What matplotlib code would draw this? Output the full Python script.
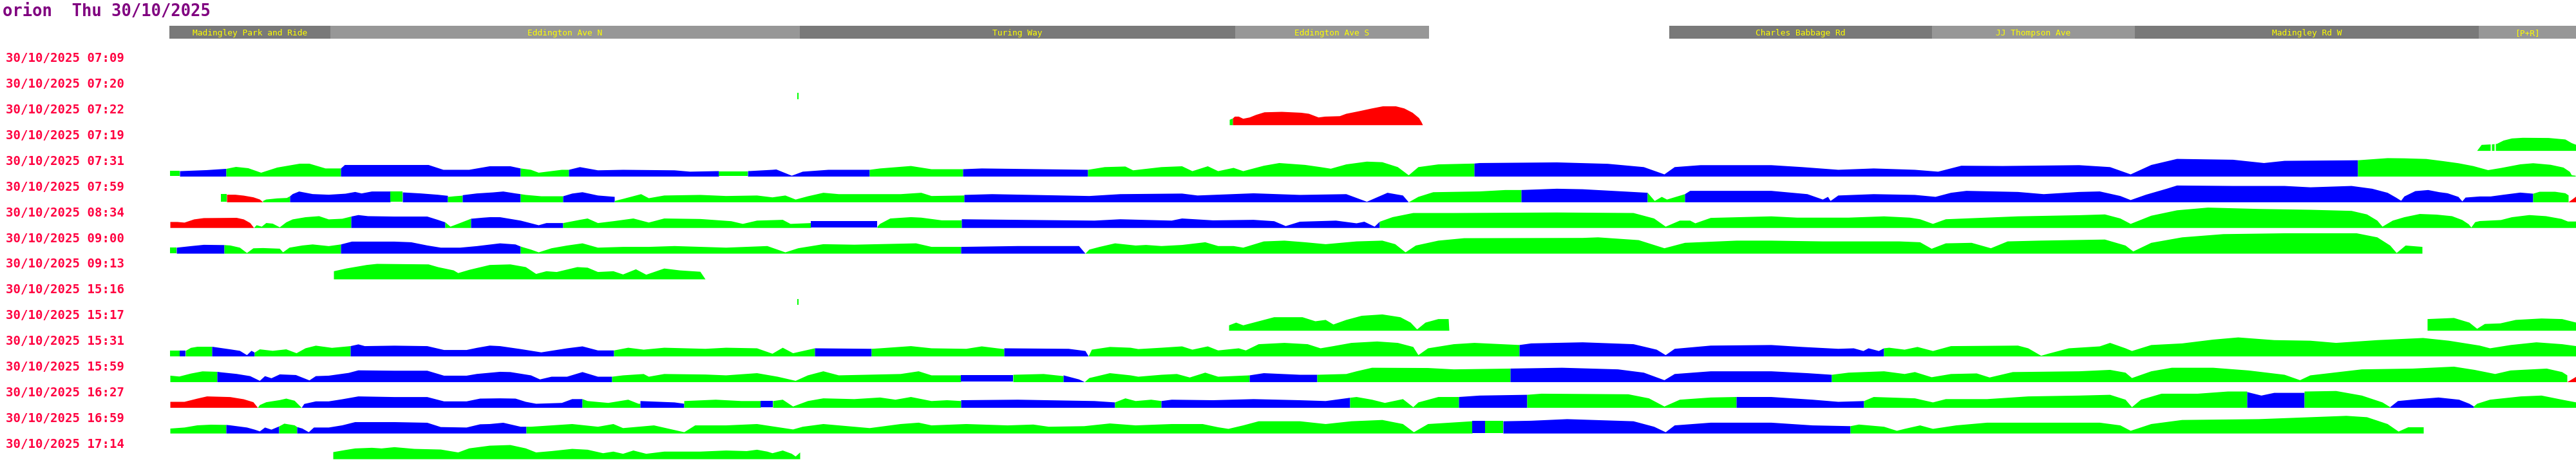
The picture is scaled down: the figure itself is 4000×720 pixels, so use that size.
import matplotlib
matplotlib.use("Agg")
import matplotlib.pyplot as plt

# ---------------- data ----------------
TITLE = "orion  Thu 30/10/2025"
DATE = "30/10/2025"
ROW_TIMES = ["07:09", "07:20", "07:22", "07:19", "07:31", "07:59", "08:34", "09:00",
             "09:13", "15:16", "15:17", "15:31", "15:59", "16:27", "16:59", "17:14"]

# route stops (route position units)
STOP_NAMES = ["Madingley Park and Ride", "Eddington Ave N", "Turing Way", "Eddington Ave S",
              "Charles Babbage Rd", "JJ Thompson Ave", "Madingley Rd W", "[P+R]"]
STOP_FROM = [263, 513, 1242, 1918, 2592, 3000, 3315, 3849]
STOP_TO = [513, 1242, 1918, 2219, 3000, 3315, 3849, 4000]
ROUTE_START, ROUTE_END = 263, 4000

# each row: list of (state, [(route position, speed), ...])
R0709 = []
R0720 = [("g", [(1238, 9.7), (1240, 9.7)])]
R0722 = [("g", [(1909, 0), (1909, 8.4), (1914, 10.5)]),
         ("r", [(1914, 10.5), (1917, 13.3), (1923, 13.3), (1930, 10), (1940, 12), (1950, 16), (1963, 20),
                (1990, 20.7), (2020, 19.3), (2032, 17.7), (2047, 12), (2057, 13.3), (2080, 14), (2090, 17.7),
                (2110, 21.7), (2130, 26), (2147, 29.3), (2167, 29.3), (2180, 26), (2193, 19.3), (2203, 11),
                (2207, 4.3), (2209, 0)])]
R0719 = [("g", [(3846, 0), (3853, 9.3), (3867, 10)]),
         ("g", [(3869, 10), (3873, 10.5)]),
         ("g", [(3875, 10.7), (3877, 11), (3887, 16), (3900, 19.3), (3917, 20.3), (3957, 20), (3983, 17.7),
                (3993, 12), (4000, 9.3)])]
R0731 = [("g", [(264, 8.4), (279, 8.4)]),
         ("b", [(279, 8.4), (320, 10), (351, 12)]),
         ("g", [(351, 12), (366, 15), (385, 13), (405, 6), (430, 14), (465, 20), (480, 20), (505, 12.6), (529, 12.6)]),
         ("b", [(529, 12.6), (535, 18), (553, 18), (665, 18), (688, 10.5), (728, 10.5), (760, 16), (792, 16), (808, 12.6)]),
         ("g", [(808, 12.6), (824, 10.5), (836, 6), (872, 10.5), (883, 10.5)]),
         ("b", [(883, 10.5), (900, 14.7), (928, 9.7), (967, 10.5), (1047, 9.7), (1071, 7.6), (1111, 8.4), (1116, 8.4)]),
         ("g", [(1116, 7.6), (1161, 7.6)]),
         ("b", [(1161, 8.4), (1199, 10.5), (1205, 11), (1229, 1.3), (1246, 7.6), (1286, 10.5), (1350, 10.5)]),
         ("g", [(1350, 10.5), (1366, 12.6), (1414, 16.4), (1446, 11.4), (1495, 11.4)]),
         ("b", [(1495, 11.4), (1524, 12.6), (1689, 10.5)]),
         ("g", [(1689, 10.5), (1715, 14.7), (1747, 15.6), (1759, 9.7), (1803, 14.7), (1835, 16), (1851, 8.4),
                (1875, 16), (1891, 8.4), (1915, 13.5), (1930, 8.4), (1962, 16.8), (1986, 21), (2026, 18.1),
                (2050, 14.7), (2066, 12.2), (2090, 18.9), (2122, 23.2), (2146, 22.3), (2170, 14.7), (2187, 2),
                (2202, 14.7), (2233, 18.9), (2289, 20.2)]),
         ("b", [(2289, 20.2), (2297, 21), (2417, 22), (2496, 19.8), (2552, 14.7), (2584, 3.4), (2600, 14.7),
                (2640, 17.7), (2750, 17.7), (2798, 14.7), (2854, 10.5), (2909, 12.6), (2973, 10.5), (3009, 7.6),
                (3045, 16.8), (3109, 16.4), (3228, 17.7), (3276, 14.7), (3308, 3.4), (3340, 18), (3380, 27.4),
                (3467, 26.1), (3515, 21), (3547, 24.4), (3661, 25.3)]),
         ("g", [(3661, 25.3), (3707, 28.6), (3733, 28.3), (3767, 27.3), (3793, 24), (3817, 20.7), (3840, 16.3),
                (3863, 10), (3883, 13.3), (3913, 19), (3933, 20.7), (3960, 18.3), (3980, 14), (3990, 7.3),
                (3993, 2), (3999, 1.3)])]
R0759 = [("g", [(343, 12.6), (352, 12.6)]),
         ("r", [(352, 11.7), (365, 11.7), (378, 10.3), (393, 7.7), (403, 4.3), (408, 0)]),
         ("g", [(408, 2), (413, 4.3), (430, 6), (445, 6.7), (450, 9.3)]),
         ("b", [(450, 9.3), (454, 12.7), (464, 16.7), (485, 12.7), (510, 11.7), (536, 13.3), (551, 16), (561, 13.7),
                (577, 16.7), (606, 16.7)]),
         ("g", [(606, 16.7), (625, 16.7)]),
         ("b", [(625, 15.3), (653, 13.7), (679, 11.7), (695, 10)]),
         ("g", [(695, 8.3), (705, 9.3), (718, 10.3)]),
         ("b", [(718, 11), (740, 13.7), (765, 15.3), (781, 16.7), (800, 13.7), (808, 12.6)]),
         ("g", [(808, 12.6), (816, 11.4), (840, 9.3), (874, 9.3)]),
         ("b", [(874, 9.3), (888, 13.5), (904, 15.6), (928, 10.5), (954, 8.4)]),
         ("g", [(954, 2), (968, 5.5), (995, 12.6), (1007, 6.3), (1031, 10.5), (1087, 11.4), (1127, 9.7), (1175, 10.5),
                (1199, 7.6), (1219, 10.5), (1235, 4.2), (1254, 9.3), (1278, 14.7), (1302, 12.6), (1398, 12.6),
                (1430, 14.7), (1446, 9.7), (1497, 10.5)]),
         ("b", [(1497, 11.4), (1540, 12.6), (1691, 9.7), (1739, 12.6), (1835, 13.5), (1859, 10.5), (1946, 13.9),
                (2018, 11.4), (2090, 12.6), (2122, 0.8), (2154, 14.7), (2178, 10.5), (2187, 0)]),
         ("g", [(2187, 0), (2202, 8.4), (2225, 15.6), (2297, 16.8), (2337, 19), (2362, 19)]),
         ("b", [(2362, 19), (2417, 21), (2457, 20.2), (2520, 16.8), (2558, 14.7)]),
         ("g", [(2558, 14.7), (2569, 2), (2580, 8.4), (2588, 4.2), (2616, 12.6)]),
         ("b", [(2616, 12.6), (2624, 17.7), (2750, 17.7), (2806, 12.6), (2830, 4.2), (2838, 8.4), (2842, 2),
                (2854, 10.5), (2909, 12.6), (2973, 11.4), (3005, 8.4), (3029, 14.7), (3053, 17.7), (3133, 16),
                (3173, 12.6), (3228, 16), (3260, 16.8), (3292, 9.7), (3308, 3.4), (3332, 11.8), (3364, 21),
                (3380, 26), (3467, 25.3), (3547, 25.3), (3587, 23.2), (3651, 25.3), (3683, 21), (3707, 14.7),
                (3720, 7.3), (3728, 2.3), (3733, 9), (3750, 17.3), (3770, 19), (3787, 15.7), (3800, 14),
                (3817, 8.3), (3823, 1.3), (3828, 7.3), (3850, 9), (3867, 9), (3887, 11.7), (3913, 15), (3933, 13.3)]),
         ("g", [(3933, 13.3), (3943, 16.3), (3967, 16.3), (3983, 14), (3988, 10.7)]),
         ("r", [(3988, 0), (4000, 9)])]
R0834 = [("r", [(264, 9.3), (275, 9.3), (286, 8.3), (301, 13.3), (316, 15.3), (367, 15.7), (378, 13.3), (388, 7.7),
                (394, 0)]),
         ("g", [(394, 0), (398, 4.3), (406, 2), (413, 7.7), (423, 6.7), (434, 1), (444, 8.7), (454, 13.3),
                (474, 16.7), (495, 18.3), (510, 13.3), (531, 14.3), (545, 17.7)]),
         ("b", [(545, 17.7), (556, 20), (571, 18.3), (612, 17.7), (663, 17.7), (679, 12.7), (691, 8.7)]),
         ("g", [(691, 8.7), (699, 2), (714, 7.7), (731, 14.3)]),
         ("b", [(731, 14.3), (750, 16), (761, 16.8), (776, 16.7), (808, 11.4), (836, 4.2), (848, 7.6), (874, 7.6)]),
         ("g", [(874, 7.6), (900, 12.6), (912, 14.7), (928, 7.6), (952, 10.5), (983, 14.7), (1007, 8.4), (1031, 14.7),
                (1087, 13.9), (1135, 10.5), (1153, 6.3), (1175, 11.4), (1215, 12.6), (1227, 6.3), (1259, 7.6)]),
         ("b", [(1259, 10.5), (1362, 10.5)]),
         ("g", [(1362, 2), (1366, 6.3), (1382, 14.7), (1414, 16.8), (1430, 16), (1462, 11.8), (1493, 11.8)]),
         ("b", [(1493, 13.5), (1580, 12.6), (1699, 11.4), (1739, 13.5), (1819, 11.4), (1835, 14.7), (1883, 11.8),
                (1946, 12.6), (1978, 10.5), (1996, 2.9), (2018, 9.7), (2074, 11.4), (2106, 7.2), (2118, 9.7),
                (2134, 2), (2142, 9.7)]),
         ("g", [(2142, 9.7), (2162, 16.8), (2194, 23.2), (2257, 23.2), (2417, 24), (2536, 23.2), (2568, 14.7),
                (2586, 2), (2608, 11.4), (2624, 11.4), (2632, 7.2), (2656, 15.6), (2750, 18), (2790, 16), (2870, 16),
                (2925, 18), (2965, 16), (2981, 13.5), (3001, 6.3), (3021, 13.5), (3133, 18), (3228, 19.8), (3268, 21),
                (3292, 14.7), (3308, 6.3), (3340, 19), (3380, 27.4), (3428, 31.6), (3507, 29.5), (3587, 28.2),
                (3651, 26.5), (3675, 21), (3691, 11.4), (3699, 2), (3715, 11.4), (3733, 16.7), (3757, 21.7),
                (3783, 20.7), (3807, 18.3), (3823, 12.3), (3833, 5.7), (3837, 0.7), (3843, 9), (3850, 10.7),
                (3883, 12.3), (3900, 16.7), (3927, 20), (3953, 18.3), (3977, 14), (3987, 10), (4000, 10)])]
R0900 = [("g", [(264, 9.3), (274, 9.3)]),
         ("b", [(274, 9.3), (296, 11.7), (316, 13.7), (348, 13.3)]),
         ("g", [(348, 13.3), (357, 12.7), (372, 9.3), (383, 1), (393, 8.3), (408, 8.7), (434, 7.7), (439, 2),
                (449, 9.3), (469, 12.7), (485, 14.3), (510, 11.7), (529, 14.3)]),
         ("b", [(529, 14.3), (546, 18.7), (612, 18.7), (638, 17.7), (663, 12.7), (684, 9.3), (714, 9.3), (740, 11.7),
                (776, 16), (800, 14.3), (808, 11)]),
         ("g", [(808, 11), (824, 6.3), (836, 2), (856, 8.4), (880, 12.6), (904, 16), (928, 9.3), (967, 10.5),
                (1007, 10.5), (1047, 11.8), (1127, 9.3), (1191, 11.8), (1219, 2), (1239, 8.4), (1278, 14.7),
                (1326, 13.9), (1422, 16), (1446, 10.5), (1492, 10.5)]),
         ("b", [(1492, 10.5), (1580, 11.8), (1675, 11.8), (1685, 0)]),
         ("g", [(1685, 0), (1691, 6.3), (1707, 10.5), (1731, 16), (1763, 12.6), (1779, 13.5), (1803, 11.8),
                (1835, 13.5), (1871, 17.7), (1891, 11.8), (1915, 11.8), (1930, 9.3), (1962, 19), (1994, 20.2),
                (2026, 17.7), (2058, 14.7), (2106, 19), (2146, 20.2), (2166, 14.7), (2182, 2), (2198, 12.6),
                (2233, 20.2), (2273, 24), (2457, 24.4), (2481, 25.3), (2544, 21), (2584, 8.4), (2616, 16.8),
                (2696, 20.2), (2750, 20.2), (2830, 19), (2949, 19), (2981, 17.7), (2999, 7.6), (3021, 16),
                (3061, 16.8), (3091, 8.4), (3117, 19), (3165, 20.2), (3268, 21.9), (3300, 12.6), (3312, 3.4),
                (3340, 16.8), (3388, 25.3), (3452, 30.3), (3547, 31.6), (3659, 31.6), (3691, 25.3), (3711, 12.6),
                (3721, 1), (3735, 12.6), (3761, 10.5)])]
R0913 = [("g", [(518, 0), (518, 12.6), (537, 16.8), (569, 22.3), (585, 24), (665, 23.2), (680, 18.9), (704, 13.9),
                (711, 9.7), (728, 14.7), (760, 22.3), (792, 23.2), (816, 19), (832, 8.4), (848, 12.6), (864, 11.4),
                (896, 19), (912, 18.1), (928, 11.4), (952, 12.6), (967, 7.6), (987, 15.6), (1003, 7.2), (1031, 16.8),
                (1055, 13.9), (1087, 11.8), (1095, 0)])]
R1516 = [("g", [(1238, 8.4), (1240, 8.4)])]
R1517 = [("g", [(1908, 0), (1908, 8.4), (1919, 12.6), (1930, 8.4), (1954, 14.7), (1978, 21), (2022, 21), (2042, 14.7),
                (2058, 16.8), (2070, 9.7), (2090, 16.8), (2114, 23.2), (2146, 25.3), (2174, 21), (2190, 12.6),
                (2200, 2), (2213, 12.6), (2233, 18.1), (2249, 18.1), (2250, 0)]),
         ("g", [(3769, 0), (3769, 18.1), (3810, 19.8), (3834, 12.6), (3846, 3), (3858, 10.5), (3882, 11.4),
                (3906, 16.8), (3946, 19), (3978, 18.1), (4000, 12.6)])]
R1531 = [("g", [(264, 8.7), (279, 8.7)]),
         ("b", [(279, 8.7), (288, 8.7)]),
         ("g", [(288, 8.7), (296, 13.3), (306, 15), (329, 15)]),
         ("b", [(329, 15), (357, 11), (372, 8.7), (383, 2), (390, 8.7), (395, 6)]),
         ("g", [(395, 6), (403, 11), (423, 8.7), (444, 11), (460, 5), (474, 12.7), (490, 16.7), (515, 13.3), (544, 16)]),
         ("b", [(544, 16), (556, 18.7), (566, 16), (612, 16.7), (663, 16), (689, 10), (724, 10), (740, 13.3),
                (760, 16.8), (776, 16), (808, 11.4), (840, 6.3), (880, 12.6), (904, 15.6), (928, 9.3), (953, 9.3)]),
         ("g", [(953, 9.3), (975, 13.5), (999, 10.5), (1031, 13.5), (1095, 11.8), (1127, 13.5), (1175, 12.6),
                (1199, 4.2), (1215, 13.5), (1231, 5), (1265, 12.6)]),
         ("b", [(1265, 12.6), (1353, 11.8)]),
         ("g", [(1353, 11.8), (1366, 12.6), (1414, 16), (1446, 12.6), (1500, 11.8), (1524, 15.6), (1548, 12.6),
                (1559, 11.4)]),
         ("b", [(1559, 12.6), (1659, 11.8), (1685, 8.4), (1690, 0)]),
         ("g", [(1690, 0), (1695, 10.5), (1723, 14.7), (1755, 13.5), (1767, 11.4), (1803, 13.5), (1835, 15.6),
                (1851, 10.5), (1875, 15.6), (1891, 9.3), (1923, 12.6), (1934, 9.3), (1954, 19), (1994, 21),
                (2030, 19), (2050, 12.6), (2070, 16), (2098, 21), (2138, 23.2), (2170, 21), (2194, 14.7), (2202, 2),
                (2217, 12.6), (2257, 19), (2289, 21), (2359, 17.7)]),
         ("b", [(2359, 17.7), (2377, 20.2), (2457, 21.9), (2536, 19), (2572, 10.5), (2586, 2), (2600, 11.8),
                (2656, 16.8), (2750, 17.7), (2798, 14.7), (2854, 11.8), (2878, 12.6), (2893, 8.4), (2901, 12.6),
                (2917, 8.4), (2925, 12.6)]),
         ("g", [(2925, 12.6), (2933, 13.5), (2957, 10.5), (2977, 14.7), (3001, 8.4), (3029, 16), (3133, 16.8),
                (3149, 12.6), (3169, 1), (3180, 4.2), (3212, 12.6), (3260, 15.6), (3276, 21), (3300, 12.6),
                (3310, 8.4), (3340, 17.7), (3388, 20.2), (3436, 26.1), (3475, 29.5), (3531, 25.3), (3587, 24.4),
                (3627, 21), (3691, 25.3), (3762, 28.6), (3802, 24.4), (3850, 16.8), (3866, 12.6), (3898, 17.7),
                (3938, 21.9), (3978, 19), (4000, 16)])]
R1559 = [("g", [(264, 10), (278, 8.7), (296, 13.3), (314, 16.7), (337, 16)]),
         ("b", [(337, 16), (342, 15.3), (367, 12.7), (388, 9.3), (403, 2), (411, 9.3), (421, 6), (434, 12), (459, 11),
                (480, 2.7), (490, 9.3), (510, 10), (541, 14.3), (556, 18.3), (612, 17.7), (663, 17.7), (689, 10),
                (724, 10), (740, 12.7), (776, 16), (792, 15.6), (824, 10.5), (838, 4.2), (856, 8.4), (880, 8.4),
                (904, 15.6), (928, 8.4), (950, 8.4)]),
         ("g", [(950, 8.4), (967, 10.5), (999, 12.6), (1007, 8.4), (1031, 12.6), (1095, 11.8), (1127, 10.5),
                (1175, 13.9), (1207, 8.4), (1235, 2), (1254, 10.5), (1278, 16.8), (1302, 10.5), (1398, 12.6),
                (1426, 16.8), (1446, 10.5), (1492, 10.5)]),
         ("b", [(1492, 10.5), (1573, 10.5)]),
         ("g", [(1573, 11.4), (1620, 12.6), (1651, 9.3)]),
         ("b", [(1651, 10.5), (1675, 4.2), (1684, 0)]),
         ("g", [(1684, 0), (1691, 6.3), (1723, 13.9), (1755, 10.5), (1767, 8.4), (1803, 11.4), (1827, 12.6),
                (1847, 7.2), (1871, 14.7), (1891, 8.4), (1940, 10.5)]),
         ("b", [(1940, 10.5), (1962, 13.9), (2018, 11.4), (2045, 11.4)]),
         ("g", [(2045, 11.4), (2090, 12.6), (2106, 16.8), (2130, 22.3), (2217, 21.9), (2257, 19.8), (2345, 21)]),
         ("b", [(2345, 21), (2425, 22.3), (2512, 19.8), (2552, 14.7), (2584, 3), (2600, 12.6), (2656, 16.8),
                (2750, 16.8), (2806, 13.9), (2844, 11.4)]),
         ("g", [(2844, 11.4), (2870, 14.7), (2925, 16.8), (2957, 12.6), (2973, 15.6), (2999, 7.6), (3029, 12.6),
                (3069, 13.5), (3089, 7.2), (3125, 15.6), (3228, 16.8), (3276, 19), (3300, 14.7), (3310, 6.3),
                (3340, 16.8), (3372, 22.3), (3436, 22.3), (3491, 18.1), (3547, 11.4), (3571, 3), (3587, 10.5),
                (3667, 19.8), (3746, 21), (3810, 24), (3842, 19), (3874, 12.6), (3898, 18.1), (3954, 21),
                (3978, 15.6), (3986, 10.5)]),
         ("r", [(3986, 0), (4000, 8.4)])]
R1627 = [("r", [(264, 9.3), (286, 9.3), (306, 14.3), (321, 17.7), (357, 16.7), (378, 13.3), (393, 8.7), (400, 0)]),
         ("g", [(400, 0), (403, 4.3), (413, 8.7), (434, 12), (444, 14.3), (457, 11), (468, 0)]),
         ("b", [(468, 0), (472, 6), (490, 10), (510, 10), (531, 13.3), (556, 17.7), (612, 16.7), (663, 16.7),
                (689, 10), (724, 10), (745, 14.3), (776, 14.7), (800, 14.3), (816, 9.3), (832, 6.3), (872, 7.6),
                (888, 13.5), (904, 13.5)]),
         ("g", [(904, 13.5), (912, 10.5), (944, 7.6), (975, 12.6), (991, 6.3), (994, 6.3)]),
         ("b", [(994, 10.5), (1047, 8.4), (1062, 6.3)]),
         ("g", [(1062, 10.5), (1111, 12.6), (1151, 10.5), (1181, 10.5)]),
         ("b", [(1181, 10.5), (1200, 10.5)]),
         ("g", [(1200, 10.5), (1215, 12.6), (1231, 2), (1254, 10.5), (1278, 14.7), (1326, 13.5), (1366, 16),
                (1390, 12.6), (1414, 16.8), (1446, 10.5), (1470, 11.8), (1492, 10.5)]),
         ("b", [(1492, 11.8), (1580, 12.6), (1699, 10.5), (1731, 8.4)]),
         ("g", [(1731, 8.4), (1747, 14.7), (1763, 10.5), (1787, 12.6), (1803, 10.5)]),
         ("b", [(1803, 10.5), (1819, 12.6), (1883, 11.8), (1946, 13.5), (2018, 11.8), (2058, 10.5), (2096, 15.6)]),
         ("g", [(2096, 15.6), (2106, 16.8), (2130, 12.6), (2150, 7.6), (2178, 13.5), (2194, 1), (2202, 8.4),
                (2233, 16.8), (2265, 16.8)]),
         ("b", [(2265, 16.8), (2297, 19), (2371, 20.2)]),
         ("g", [(2371, 20.2), (2393, 21.9), (2528, 21), (2560, 14.7), (2584, 2), (2608, 12.6), (2656, 16),
                (2696, 16.8)]),
         ("b", [(2696, 16.8), (2750, 16.8), (2814, 12.6), (2854, 9.3), (2894, 10.5)]),
         ("g", [(2894, 10.5), (2909, 16.8), (2973, 14.7), (3001, 8.4), (3021, 13.5), (3085, 13.5), (3149, 17.7),
                (3228, 19), (3276, 20.2), (3300, 12.6), (3310, 1), (3324, 12.6), (3356, 21.9), (3412, 21.9),
                (3459, 25.3), (3489, 25.3)]),
         ("b", [(3489, 24.4), (3511, 19), (3531, 23.2), (3578, 23.2)]),
         ("g", [(3578, 25.3), (3627, 26.1), (3667, 19), (3699, 8.4), (3711, 1)]),
         ("b", [(3711, 1), (3723, 10.5), (3754, 13.5), (3786, 16), (3818, 12.6), (3834, 6.3), (3841, 2)]),
         ("g", [(3841, 2), (3846, 6.3), (3866, 12.6), (3914, 17.7), (3946, 19), (3978, 12.6), (4000, 8.4)])]
R1659 = [("g", [(264, 7.7), (286, 9.3), (306, 12.7), (327, 13.7), (351, 13.3)]),
         ("b", [(351, 13.3), (357, 12.7), (383, 9.3), (395, 6), (403, 3.3), (411, 9.3), (421, 6), (433, 11)]),
         ("g", [(433, 11), (441, 15.3), (457, 12.7), (461, 10)]),
         ("b", [(461, 10), (469, 7.7), (479, 2), (487, 9.3), (510, 9.3), (531, 12.7), (551, 17.7), (612, 17.7),
                (663, 16.7), (684, 10), (724, 9.3), (745, 14.3), (760, 14.7), (781, 16.7), (808, 10.5), (817, 10.5)]),
         ("g", [(817, 10.5), (824, 10.5), (888, 14.7), (928, 10.5), (952, 14.7), (967, 8.4), (1015, 12.6), (1062, 2),
                (1079, 12.6), (1127, 12.6), (1175, 14.7), (1231, 6.3), (1246, 10.5), (1278, 14.7), (1350, 8.4),
                (1398, 14.7), (1426, 16.8), (1446, 12.6), (1500, 14.7), (1564, 12.6), (1604, 13.9), (1628, 10.5),
                (1683, 11.4), (1723, 15.6), (1763, 12.6), (1819, 14.7), (1867, 14.7), (1891, 9.7), (1907, 7.2),
                (1930, 12.6), (1954, 19), (2018, 19), (2058, 14.7), (2098, 19), (2146, 21), (2178, 14.7), (2195, 2),
                (2217, 14.7), (2286, 19)]),
         ("b", [(2286, 19), (2306, 19)]),
         ("g", [(2306, 19), (2334, 19)]),
         ("b", [(2334, 19), (2377, 19.8), (2433, 22.3), (2536, 19), (2568, 10.5), (2586, 2), (2600, 12.6),
                (2656, 16.8), (2750, 16.8), (2814, 12.6), (2873, 11.4)]),
         ("g", [(2873, 11.4), (2886, 13.9), (2925, 10.5), (2945, 4.2), (2957, 7.2), (2981, 12.6), (3001, 7.2),
                (3037, 12.6), (3085, 16.8), (3260, 16.8), (3292, 12.6), (3308, 4.2), (3340, 14.7), (3388, 21),
                (3507, 22.3), (3587, 25.3), (3643, 27.4), (3675, 25.3), (3707, 14.7), (3724, 3), (3739, 9.7),
                (3763, 9.7)])]
R1714 = [("g", [(517, 0), (517, 11), (536, 14.3), (551, 16.7), (577, 17.7), (592, 16.7), (612, 18.7), (643, 16),
                (684, 15), (711, 10.5), (728, 16.8), (760, 21), (792, 22), (816, 16.8), (832, 10.5), (856, 12.6),
                (888, 16), (912, 14.7), (936, 9.3), (952, 11.8), (967, 8.4), (983, 13.5), (1003, 8.4), (1031, 11.8),
                (1087, 11.8), (1127, 13.5), (1159, 12.6), (1175, 14.7), (1191, 11.8), (1199, 9.3), (1215, 13.5),
                (1229, 8.4), (1235, 4.2), (1242, 10.5), (1242, 0)])]

ROW_DATA = [R0709, R0720, R0722, R0719, R0731, R0759, R0834, R0900,
            R0913, R1516, R1517, R1531, R1559, R1627, R1659, R1714]

# ---------------- styles ----------------
STATE_COLORS = {"g": "#00ff00", "b": "#0000ff", "r": "#ff0000"}
SHADES = ["#797979", "#979797"]
TITLE_COLOR = "#800080"
LABEL_COLOR = "#ff0040"
STOP_TEXT = "#ffff00"
MONO = "DejaVu Sans Mono"

W, H = 4000, 720
fig = plt.figure(figsize=(W / 100, H / 100), dpi=100)
fig.patch.set_facecolor("white")


def fx(px):
    return px / W


def fy(py):
    return 1 - py / H


fig.text(fx(4), fy(15), TITLE, color=TITLE_COLOR, fontsize=18.4, family=MONO,
         weight="bold", ha="left", va="center_baseline")

# header bar with stop names
hax = fig.add_axes([fx(ROUTE_START), fy(60), (ROUTE_END - ROUTE_START) / W, 20 / H])
hax.set_xlim(ROUTE_START, ROUTE_END)
hax.set_ylim(0, 1)
hax.axis("off")
for k, (name, a, b) in enumerate(zip(STOP_NAMES, STOP_FROM, STOP_TO)):
    hax.barh(0.5, b - a, left=a, height=1, color=SHADES[k % 2], lw=0)
    hax.text((a + b) / 2, 0.5, name, color=STOP_TEXT, fontsize=9.3, family=MONO,
             ha="center", va="center_baseline")

# rows
LABEL_Y0, ROW_STEP, BASE_OFF, ROW_H = 89, 39.87, 25, 36
for i, (t, segs) in enumerate(zip(ROW_TIMES, ROW_DATA)):
    yc = LABEL_Y0 + i * ROW_STEP
    fig.text(fx(9), fy(yc), f"{DATE} {t}", color=LABEL_COLOR, fontsize=13.7, family=MONO,
             weight="bold", ha="left", va="center_baseline")
    base = yc + BASE_OFF
    ax = fig.add_axes([fx(ROUTE_START), fy(base), (ROUTE_END - ROUTE_START) / W, ROW_H / H])
    ax.set_xlim(ROUTE_START, ROUTE_END)
    ax.set_ylim(0, ROW_H)
    ax.axis("off")
    ax.patch.set_alpha(0)
    for state, pts in segs:
        xs = [p[0] for p in pts]
        hs = [p[1] for p in pts]
        ax.fill_between(xs, 0, hs, color=STATE_COLORS[state], lw=0, antialiased=False)

fig.savefig("out.png", dpi=100, facecolor="white")
